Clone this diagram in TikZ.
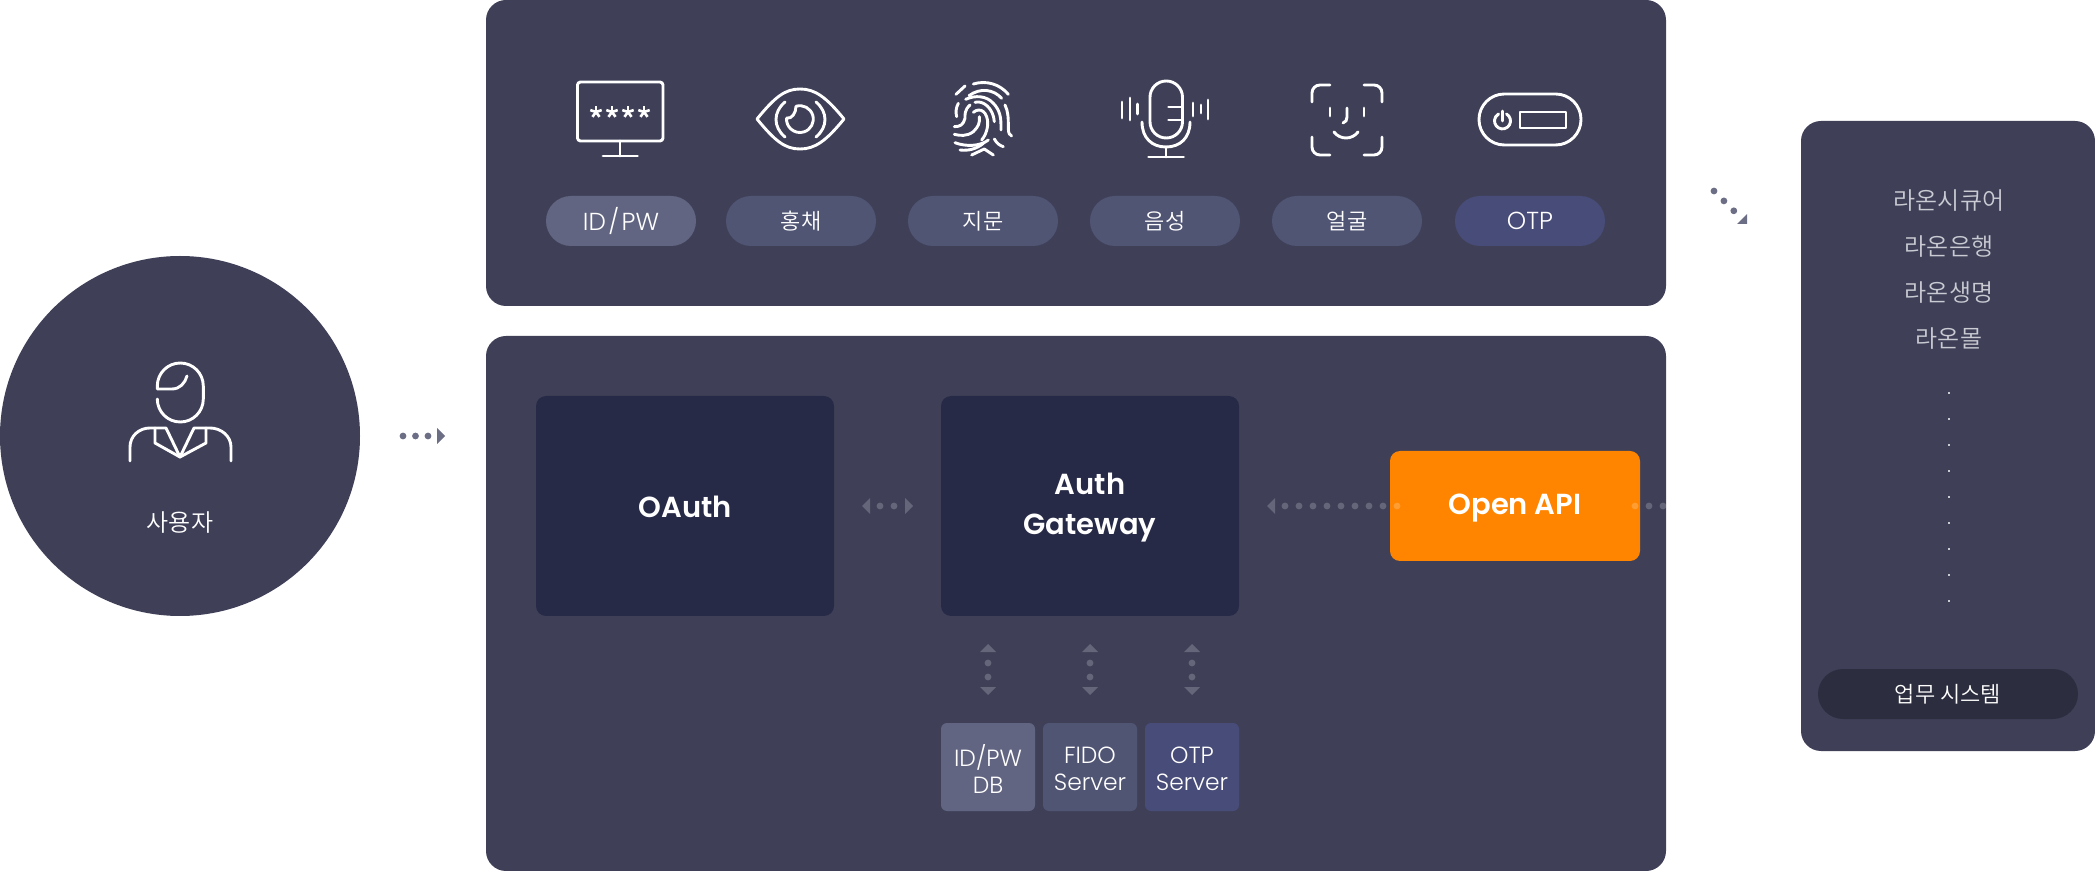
\documentclass[tikz,border=0pt]{standalone}
\usepackage{fontspec}
\setmainfont{Poppins Light}
\newfontfamily\krfont{Noto Sans CJK KR DemiLight}
\newfontfamily\boldfont{Poppins SemiBold}
\usetikzlibrary{arrows.meta}
\definecolor{panelcol}{HTML}{3F4058}
\definecolor{darkcol}{HTML}{272A47}
\definecolor{apicol}{HTML}{FF8500}
\definecolor{idcol}{HTML}{626581}
\definecolor{midcol}{HTML}{515574}
\definecolor{otpcol}{HTML}{484C78}
\definecolor{syscol}{HTML}{2C2D3F}
\definecolor{dotcol}{HTML}{6C6E85}
\definecolor{listcol}{HTML}{C9CAD2}
\newcommand{\lowtext}[2][1pt]{\raisebox{-#1}[\height][\depth]{#2}}
\tikzset{
  panel/.style={fill=panelcol,rounded corners=10pt,inner sep=0pt,outer sep=0pt},
  pillbox/.style={rounded corners=12.5pt,minimum width=75pt,minimum height=25pt,inner sep=0pt,outer sep=0pt,text=white,font=\fontsize{12.3}{14}\selectfont},
  krpill/.style={pillbox,font=\krfont\fontsize{11}{13}\selectfont},
  darkbox/.style={fill=darkcol,rounded corners=5pt,minimum width=149pt,minimum height=110pt,inner sep=0pt,outer sep=0pt,text=white,align=center,font=\boldfont\fontsize{14.5}{20}\selectfont},
  dbbox/.style={rounded corners=3pt,minimum width=47pt,minimum height=44pt,inner sep=0pt,outer sep=0pt,text=white,align=center,font=\fontsize{11.7}{13.5}\selectfont},
  icon/.style={draw=white,line width=1.45pt,line cap=round,line join=round},
  dotline/.style={line width=3.4pt,line cap=round,dash pattern=on 0pt off 7pt},
  dotarrow/.style={dotline,draw=dotcol,-{Triangle[length=4pt,width=8pt,line width=0pt]}},
  dotboth/.style={dotline,dash phase=2pt,draw=white,opacity=.2,{Triangle[length=4pt,width=8pt,line width=0pt]}-{Triangle[length=4pt,width=8pt,line width=0pt]}},
  dotleft/.style={dotline,draw=white,opacity=.2,-{Triangle[length=4pt,width=8pt,line width=0pt]}},
}
\begin{document}
\begin{tikzpicture}[x=0.5pt,y=-0.5pt]
  \useasboundingbox (0,0) rectangle (2095,871);

  % user
  \node[circle,fill=panelcol,minimum size=180pt,inner sep=0pt,outer sep=0pt] (user) at (180,436) {};
  \node[text=white,inner sep=0pt,font=\krfont\fontsize{12}{14}\selectfont] (userlabel) at (180,523) {사용자};
  \draw[icon] (157.3,399) arc[start angle=180,end angle=360,radius=11.5pt] -- (203.3,386)
    arc[start angle=0,end angle=180,radius=11.5pt] -- (157.3,389) -- (172,389)
    .. controls (180,389) and (185,383) .. (187,376);
  \draw[icon] (130,461) -- (130,447) .. controls (130,436) and (139,428) .. (150,428) -- (166,428)
    -- (180,457) -- (194,428) -- (210,428) .. controls (221,428) and (231,436) .. (231,447) -- (231,461);
  \draw[icon] (155,428) -- (155,443) -- (180,457) -- (206,443) -- (206,428);

  % panels
  \node[panel,minimum width=590pt,minimum height=153pt] (toppanel) at (1076,153) {};
  \node[panel,minimum width=590pt,minimum height=267.5pt] (botpanel) at (1076,603.5) {};
  \node[panel,minimum width=147pt,minimum height=315pt] (syspanel) at (1948,436) {};

  % method pills
  \foreach \cx/\col/\nm/\txt in {621/idcol/pillid/{ID\kern1.2pt/\kern1.2ptPW},1530/otpcol/pillotp/OTP}
    \node[pillbox,fill=\col] (\nm) at (\cx,221) {\txt};
  \foreach \cx/\nm/\txt in {801/pilliris/홍채,983/pillfinger/지문,1165/pillvoice/음성,1347/pillface/얼굴}
    \node[krpill,fill=midcol] (\nm) at (\cx,221) {\txt};

  % monitor
  \draw[icon,rounded corners=1.5pt] (577.5,82) rectangle (663,141);
  \draw[icon] (620,141) -- (620,156) (603,156) -- (637.5,156);
  \foreach \sx in {596,612,628,644}
    \foreach \a in {90,162,234,306,18}
      \draw[icon,line width=1.3pt,line cap=butt] (\sx,112) -- ++(\a:3pt);

  % eye
  \draw[icon] (757,119) .. controls (775,97) and (785,89) .. (800,89) .. controls (815,89) and (826,97) .. (844,119)
    .. controls (826,141) and (815,149) .. (800,149) .. controls (785,149) and (775,141) .. (757,119) -- cycle;
  \draw[icon] (785,102) .. controls (773,112) and (773,127) .. (785,137);
  \draw[icon] (816,102) .. controls (828,112) and (828,127) .. (816,137);
  \draw[icon] (796,106.3) arc[start angle=107,end angle=-184,radius=6.7pt]
    .. controls (792,119) and (796,113) .. (796,106.3);

  % fingerprint
  \begin{scope}[shift={(945,75)},scale=1/3]
    \draw[icon] (33,58) -- (60,33);
    \draw[icon] (85,27) .. controls (125,15) and (165,28) .. (190,58);
    \draw[icon] (72,62) .. controls (105,38) and (145,42) .. (170,70);
    \draw[icon] (180,90) .. controls (190,110) and (190,130) .. (190,160) .. controls (190,175) and (194,181) .. (200,183);
    \draw[icon] (40,85) .. controls (32,100) and (32,112) .. (35,125);
    \draw[icon] (62,73) .. controls (90,60) and (125,62) .. (145,85) .. controls (165,105) and (168,130) .. (168,150) -- (168,165);
    \draw[icon] (75,90) .. controls (58,105) and (60,120) .. (60,130) .. controls (55,150) and (45,155) .. (28,155);
    \draw[icon] (90,82) .. controls (115,75) and (145,100) .. (148,140);
    \draw[icon] (85,112) .. controls (105,95) and (130,110) .. (128,150) .. controls (125,175) and (118,185) .. (110,195);
    \draw[icon] (103,125) .. controls (105,145) and (100,155) .. (85,170) .. controls (65,185) and (45,182) .. (28,178);
    \draw[icon] (130,195) .. controls (105,215) and (60,215) .. (30,203);
    \draw[icon] (148,192) .. controls (155,205) and (165,212) .. (175,215);
    \draw[icon] (45,225) .. controls (70,228) and (95,222) .. (115,205);
    \draw[icon] (80,240) -- (118,222) -- (145,240);
  \end{scope}

  % mic
  \draw[icon,rounded corners=8.1pt] (1150,81) rectangle (1182.5,138);
  \draw[icon] (1168.6,107) -- (1182.5,107) (1168.6,120) -- (1182.5,120);
  \draw[icon] (1142,122) .. controls (1142,138) and (1152,147) .. (1166,147) .. controls (1180,147) and (1190,138) .. (1190,122);
  \draw[icon] (1166,147) -- (1166,157) (1148.6,157) -- (1183.6,157);
  \foreach \bx/\ya/\yb in {1122/102/118,1130/98/120,1137.5/104/114,1193/103/116,1201/105/113,1208/100/119}
    \draw[icon] (\bx,\ya) -- (\bx,\yb);

  % face
  \draw[icon,rounded corners=4pt] (1312,102) -- (1312,85) -- (1330,85);
  \draw[icon,rounded corners=4pt] (1364,85) -- (1382,85) -- (1382,102);
  \draw[icon,rounded corners=4pt] (1312,137) -- (1312,155) -- (1330,155);
  \draw[icon,rounded corners=4pt] (1364,155) -- (1382,155) -- (1382,137);
  \draw[icon] (1330,108) -- (1330,116) (1364,108) -- (1364,116);
  \draw[icon] (1347,108) -- (1347,117) .. controls (1347,120) and (1346,122) .. (1343,123);
  \draw[icon] (1334,132) .. controls (1340,140) and (1352,140) .. (1358,132);

  % otp
  \draw[icon,rounded corners=12.7pt] (1479,94) rectangle (1581,145);
  \draw[icon] (1520,112) rectangle (1566,128);
  \draw[icon] (1506.5,114) arc[start angle=60,end angle=-240,radius=4pt];
  \draw[icon] (1502.5,111) -- (1502.5,121);

  % auth boxes
  \node[darkbox] (oauth) at (685,506) {\lowtext[.5pt]{\kern.5ptOAuth}};
  \node[darkbox] (gateway) at (1090,506) {\lowtext[.8pt]{Auth}\\\lowtext[.8pt]{Gateway}};
  \node[dbbox,fill=idcol] (iddb) at (988,767) {\lowtext{ID/PW}\\\lowtext{DB}};
  \node[dbbox,fill=midcol] (fido) at (1090,767) {\lowtext{FIDO}\\\lowtext{Server}};
  \node[dbbox,fill=otpcol] (otpsrv) at (1192,767) {\lowtext{OTP}\\\lowtext{Server}};
  \node[darkbox,fill=apicol,minimum width=125pt,minimum height=55pt] (api) at (1515,506) {\lowtext{Open API}};

  % right list
  \foreach \ly/\nm/\txt in {201/corpa/라온시큐어,247/corpb/라온은행,293/corpc/라온생명,339/corpd/라온몰}
    \node[text=listcol,inner sep=0pt,font=\krfont\fontsize{12}{14}\selectfont] (\nm) at (1949,\ly) {\txt};
  \foreach \ly in {0,...,8}
    \fill[listcol] (1948,392+26*\ly) rectangle ++(2,2);
  \node[krpill,fill=syscol,minimum width=130pt] (syslabel) at (1948,694) {업무 시스템};

  % connectors
  \coordinate (diaga) at (1714,191);
  \coordinate (diagb) at (1747,224);
  \draw[dotarrow,dash pattern=on 0pt off 6.25pt,shorten <=21.5pt,shorten >=20.5pt] (user) ++(90pt,0) -- (user -| botpanel.west);
  \draw[dotline,draw=dotcol,-{Triangle[length=3.5pt,width=7pt,line width=0pt]}] (diaga) -- (diagb);
  \draw[dotboth,shorten <=14pt,shorten >=14pt] (oauth) ++(74.5pt,0) -- (gateway.west);
  \draw[dotleft,shorten <=-3.5pt,shorten >=14pt] (api.west) -- (api.west -| gateway.east);
  \draw[dotline,draw=white,opacity=.2,shorten <=-2.5pt] (api.east) -- (api.east -| botpanel.east);
  \foreach \nm in {iddb,fido,otpsrv}
    \draw[dotboth,shorten <=14pt,shorten >=14pt] (\nm.north) -- (\nm.north |- gateway.south);
\end{tikzpicture}
\end{document}
